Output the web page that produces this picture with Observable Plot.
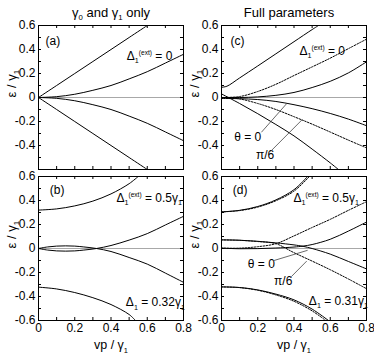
<!DOCTYPE html>
<html><head><meta charset="utf-8">
<script src="https://cdn.jsdelivr.net/npm/d3@7"></script>
<script src="https://cdn.jsdelivr.net/npm/@observablehq/plot@0.6"></script>
<style>
body{margin:0;background:#fff;color:#000}
#chart{position:relative;width:374px;height:354px}
#chart svg{position:absolute;left:0;top:0}
</style>
</head><body><div id="chart"></div>
<script>
// ---- axis ticks ----
const xTickLabels = [0, 0.2, 0.4, 0.6, 0.8];
const yTickLabelsTop = [-0.4, -0.2, 0, 0.2, 0.4, 0.6];
const yTickLabelsBottom = [-0.6, -0.4, -0.2, 0, 0.2, 0.4, 0.6];
const xTickMarks = [0.1, 0.2, 0.3, 0.4, 0.5, 0.6, 0.7];
const yTickMarks = [-0.5, -0.4, -0.3, -0.2, -0.1, 0, 0.1, 0.2, 0.3, 0.4, 0.5];

// ---- titles / labels ----
const titleLeft = "γ_{0} and γ_{1} only";
const titleRight = "Full parameters";
const yLabel = "ε / γ_{1}";
const xLabel = "vp / γ_{1}";

// ---- panel (a): gamma0, gamma1 only, Δ1(ext)=0 ----
const a1 = [[0,0],[0.1,0.1],[0.2,0.2],[0.3,0.3],[0.4,0.4],[0.5,0.5],[0.6,0.6]];
const a2 = [[0,0],[0.1,0.007],[0.2,0.027],[0.3,0.06],[0.4,0.10],[0.5,0.155],[0.6,0.215],[0.7,0.287],[0.8,0.36]];
const a3 = [[0,0],[0.1,-0.007],[0.2,-0.027],[0.3,-0.06],[0.4,-0.10],[0.5,-0.155],[0.6,-0.215],[0.7,-0.287],[0.8,-0.36]];
const a4 = [[0,0],[0.1,-0.1],[0.2,-0.2],[0.3,-0.3],[0.4,-0.4],[0.5,-0.5],[0.6,-0.6]];
const aNotes = [{text:"(a)", x:0.039, y:0.47}, {text:"Δ_{1}^{(ext)} = 0", x:0.487, y:0.345}];

// ---- panel (b): Δ1(ext)=0.5γ1, Δ1=0.32γ1 ----
const b1 = [[0,0.32],[0.1,0.33],[0.2,0.355],[0.3,0.395],[0.4,0.455],[0.5,0.54],[0.55,0.6]];
const b2 = [[0,-0.322],[0.1,-0.337],[0.2,-0.367],[0.3,-0.41],[0.4,-0.467],[0.5,-0.55],[0.535,-0.6]];
const b3 = [[0,0],[0.05,0.013],[0.1,0.02],[0.15,0.022],[0.2,0.02],[0.25,0.013],[0.32,0],[0.4,-0.025],[0.5,-0.075],[0.6,-0.13],[0.7,-0.205],[0.8,-0.282]];
const b4 = [[0,0],[0.05,-0.013],[0.1,-0.02],[0.15,-0.022],[0.2,-0.02],[0.25,-0.013],[0.32,0],[0.4,0.025],[0.5,0.07],[0.6,0.124],[0.7,0.196],[0.8,0.268]];
const bNotes = [{text:"(b)", x:0.062, y:0.49}, {text:"Δ_{1}^{(ext)} = 0.5γ_{1}", x:0.43, y:0.42}, {text:"Δ_{1} = 0.32γ_{1}", x:0.482, y:-0.45}];

// ---- panel (c): full parameters, Δ1(ext)=0 ; solid θ=0, dotted θ=π/6 ----
const c1 = [[0,0.085],[0.03,0.094],[0.1,0.163],[0.2,0.263],[0.3,0.364],[0.4,0.465],[0.5,0.566],[0.535,0.6]];
const c2 = [[0,0],[0.1,0.0],[0.2,0.005],[0.3,0.018],[0.4,0.042],[0.5,0.083],[0.6,0.135],[0.7,0.205],[0.8,0.297]];
const c3 = [[0,-0.008],[0.1,-0.01],[0.2,-0.017],[0.3,-0.033],[0.4,-0.06],[0.5,-0.093],[0.6,-0.133],[0.7,-0.18],[0.8,-0.235]];
const c4 = [[0,0.03],[0.1,-0.05],[0.2,-0.135],[0.3,-0.225],[0.4,-0.32],[0.5,-0.43],[0.6,-0.545],[0.645,-0.6]];
const c5 = [[0,0],[0.1,0.008],[0.2,0.05],[0.3,0.11],[0.4,0.183],[0.5,0.255],[0.6,0.328],[0.7,0.407],[0.8,0.486]];
const c6 = [[0,0],[0.1,-0.012],[0.2,-0.05],[0.3,-0.1],[0.4,-0.16],[0.5,-0.222],[0.6,-0.288],[0.7,-0.355],[0.8,-0.42]];
const cNotes = [{text:"(c)", x:0.05, y:0.47}, {text:"Δ_{1}^{(ext)} = 0", x:0.43, y:0.386}, {text:"θ = 0", x:0.07, y:-0.33}, {text:"π/6", x:0.19, y:-0.483}];
const cPointers = [[0.22,-0.29,0.36,-0.05],[0.27,-0.45,0.445,-0.185]];

// ---- panel (d): full parameters, Δ1(ext)=0.5γ1, Δ1=0.31γ1 ----
const d1 = [[0,0.305],[0.1,0.318],[0.2,0.35],[0.3,0.405],[0.4,0.49],[0.475,0.6]];
const d2 = [[0,0.072],[0.1,0.069],[0.2,0.06],[0.3,0.047],[0.4,0.03],[0.45,0.018],[0.5,0.0],[0.6,-0.047],[0.7,-0.108],[0.8,-0.17]];
const d3 = [[0,0.003],[0.1,-0.002],[0.2,-0.001],[0.3,0.004],[0.4,0.012],[0.45,0.02],[0.5,0.033],[0.6,0.077],[0.7,0.145],[0.8,0.22]];
const d4 = [[0,-0.32],[0.1,-0.325],[0.2,-0.345],[0.3,-0.38],[0.4,-0.428],[0.5,-0.505],[0.59,-0.6]];
const d5 = [[0,0.305],[0.1,0.316],[0.2,0.345],[0.3,0.398],[0.4,0.478],[0.485,0.6]];
const d6 = [[0,0.072],[0.1,0.068],[0.2,0.058],[0.3,0.04],[0.4,-0.035],[0.5,-0.105],[0.6,-0.177],[0.7,-0.254],[0.8,-0.335]];
const d7 = [[0,0.003],[0.1,0.003],[0.2,0.015],[0.3,0.04],[0.4,0.105],[0.5,0.175],[0.6,0.243],[0.7,0.318],[0.8,0.39]];
const d8 = [[0,-0.32],[0.1,-0.326],[0.2,-0.348],[0.3,-0.387],[0.4,-0.44],[0.5,-0.52],[0.575,-0.6]];
const dNotes = [{text:"(d)", x:0.062, y:0.49}, {text:"Δ_{1}^{(ext)} = 0.5γ_{1}", x:0.397, y:0.42}, {text:"θ = 0", x:0.145, y:-0.128}, {text:"π/6", x:0.29, y:-0.272}, {text:"Δ_{1} = 0.31γ_{1}", x:0.482, y:-0.44}];
const dPointers = [[0.29,-0.1,0.475,-0.015],[0.385,-0.235,0.47,-0.105]];

const FONT = "'Liberation Sans', Arial, Helvetica, sans-serif";
const W = 374, H = 354;
const COLS = [[38, 183], [221, 366]];
const ROWS = [[25, 169], [176, 320]];

function panel(cfg) {
  const [x0, x1] = COLS[cfg.col];
  const [y0, y1] = ROWS[cfg.row];
  const bottom = cfg.row === 1;
  const line = (c, dotted) => Plot.line(c, {
    x: d => d[0], y: d => d[1], stroke: "black", strokeWidth: 1,
    curve: "catmull-rom", clip: true,
    strokeDasharray: dotted ? "1.6,1.4" : null
  });
  const marks = [
    Plot.ruleY([0], {stroke: "#a8a8a8", strokeWidth: 1}),
    Plot.ruleX(xTickMarks, {x: d => d, y1: -0.6, y2: -0.575, stroke: "black"}),
    Plot.ruleX(xTickMarks, {x: d => d, y1: 0.6, y2: 0.575, stroke: "black"}),
    Plot.ruleY(yTickMarks, {y: d => d, x1: 0, x2: 0.0166, stroke: "black"}),
    Plot.ruleY(yTickMarks, {y: d => d, x1: 0.8, x2: 0.7834, stroke: "black"}),
    ...cfg.solid.map(c => line(c, false)),
    ...(cfg.dotted || []).map(c => line(c, true)),
    Plot.frame({stroke: "black", strokeWidth: 1}),
    Plot.text(cfg.notes, {x: "x", y: "y", text: "text", textAnchor: "start", lineAnchor: "middle", fontSize: 12, fill: "black"}),
    Plot.text([yLabel], {text: d => d, frameAnchor: "left", lineAnchor: "middle", dx: -27, rotate: -90, fontSize: 13, fill: "black"})
  ];
  if (cfg.pointers) marks.push(Plot.link(cfg.pointers, {x1: d => d[0], y1: d => d[1], x2: d => d[2], y2: d => d[3], stroke: "#444", strokeWidth: 0.8}));
  if (cfg.title) marks.push(Plot.text([cfg.title], {text: d => d, frameAnchor: "top", lineAnchor: "middle", dy: -13, dx: cfg.titleDx || 0, fontSize: 13, fill: "black"}));
  if (bottom) marks.push(Plot.text([xLabel], {text: d => d, frameAnchor: "bottom", lineAnchor: "middle", dy: 24.5, fontSize: 12.5, fill: "black"}));
  return Plot.plot({
    width: W, height: H,
    marginLeft: x0, marginRight: W - x1, marginTop: y0, marginBottom: H - y1,
    style: {fontFamily: FONT, fontSize: "12px", background: "transparent", overflow: "visible", color: "black"},
    x: bottom
      ? {domain: [0, 0.8], ticks: xTickLabels, tickSize: 0, tickPadding: 3, tickFormat: d => String(d), label: null}
      : {domain: [0, 0.8], axis: null},
    y: {domain: [-0.6, 0.6], ticks: bottom ? yTickLabelsBottom : yTickLabelsTop, tickSize: 0, tickPadding: 3, tickFormat: d => String(d), label: null},
    marks
  });
}

function richify(svg) {
  svg.querySelectorAll("text").forEach(el => {
    const s = el.textContent;
    if (!/[_^]\{/.test(s)) return;
    const fs = parseFloat(getComputedStyle(el).fontSize) || 12;
    while (el.firstChild) el.removeChild(el.firstChild);
    el.style.whiteSpace = "pre";
    const re = /([_^])\{([^}]*)\}|([^_^]+)/g;
    let m, cur = 0;
    while ((m = re.exec(s))) {
      const t = document.createElementNS("http://www.w3.org/2000/svg", "tspan");
      let target = 0, size = null;
      if (m[1] === "_") { target = 0.28 * fs; size = 0.6 * fs; t.textContent = m[2]; }
      else if (m[1] === "^") { target = -0.42 * fs; size = 0.55 * fs; t.textContent = m[2]; }
      else { t.textContent = m[3]; }
      if (target !== cur) t.setAttribute("dy", (target - cur).toFixed(2));
      cur = target;
      if (size) t.setAttribute("font-size", size.toFixed(2));
      el.appendChild(t);
    }
  });
}

const chart = document.getElementById("chart");
const panels = [
  {col: 0, row: 0, solid: [a1, a2, a3, a4], notes: aNotes, title: titleLeft},
  {col: 0, row: 1, solid: [b1, b2, b3, b4], notes: bNotes},
  {col: 1, row: 0, solid: [c1, c2, c3, c4], dotted: [c5, c6], notes: cNotes, pointers: cPointers, title: titleRight, titleDx: -5},
  {col: 1, row: 1, solid: [d1, d2, d3, d4], dotted: [d5, d6, d7, d8], notes: dNotes, pointers: dPointers}
];
for (const p of panels) {
  const svg = panel(p);
  chart.appendChild(svg);
  richify(svg);
}
</script></body></html>
